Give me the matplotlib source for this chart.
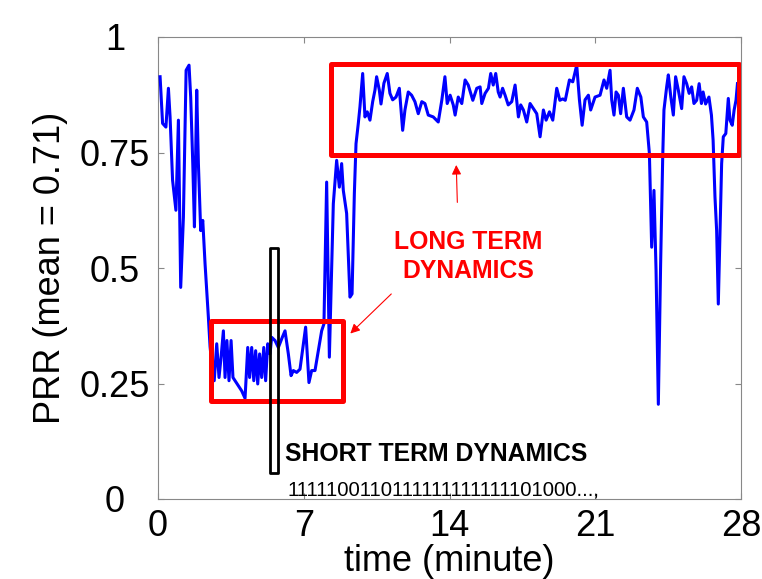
import numpy as np
import matplotlib
matplotlib.use("Agg")
import matplotlib.pyplot as plt
from matplotlib.patches import Rectangle

plt.rcParams['font.family'] = ['Liberation Sans', 'DejaVu Sans']

# PRR trace (time in minutes, PRR)
t = [0.10, 0.22, 0.38, 0.50, 0.58, 0.70, 0.86, 0.98, 1.09, 1.22, 1.35, 1.49, 1.57, 1.67,
     1.75, 1.86, 1.94, 2.05, 2.15, 2.26, 2.42,
     2.50, 2.58, 2.70, 2.82, 2.93, 3.03, 3.14, 3.22, 3.31, 3.41, 3.51, 3.60, 3.70, 3.86,
     4.02, 4.18, 4.31, 4.40, 4.50, 4.60, 4.69, 4.79, 4.88, 4.98, 5.08, 5.17, 5.27, 5.38,
     5.46, 5.62, 5.78, 5.97, 6.10, 6.26, 6.39, 6.50, 6.66, 6.82, 6.98, 7.09, 7.25, 7.38,
     7.54, 7.70, 7.86, 7.97, 8.10, 8.23, 8.42, 8.58, 8.71, 8.82, 8.90, 9.06, 9.22, 9.32,
     9.43, 9.51, 9.62, 9.70, 9.83, 9.94, 10.05, 10.18, 10.31, 10.42, 10.50, 10.63, 10.71,
     10.85, 11.01, 11.14, 11.27, 11.43, 11.59, 11.75, 11.86, 12.02, 12.18, 12.34, 12.50,
     12.67, 12.82, 12.98, 13.22, 13.46, 13.63, 13.78, 13.89, 14.03, 14.18, 14.27, 14.42,
     14.59, 14.75, 14.90, 15.12, 15.31, 15.47, 15.55, 15.71, 15.87, 15.98, 16.10, 16.22,
     16.34, 16.43, 16.55, 16.67, 16.82, 16.99, 17.15, 17.31, 17.42, 17.55, 17.71, 17.87,
     18.03, 18.19, 18.35, 18.51, 18.64, 18.80, 18.96, 19.15, 19.30, 19.44, 19.56, 19.76,
     19.92, 20.11, 20.24, 20.37, 20.51, 20.67, 20.78, 20.99, 21.23, 21.42, 21.55, 21.71,
     21.79, 21.90, 22.00, 22.11, 22.22, 22.35, 22.51, 22.67, 22.86, 23.02, 23.19, 23.31,
     23.47, 23.60, 23.71, 23.82, 23.92, 24.03, 24.14, 24.24, 24.30, 24.43, 24.51, 24.63,
     24.75, 24.86, 24.99, 25.15, 25.26, 25.39, 25.51, 25.63, 25.74, 25.87, 25.99, 26.10,
     26.18, 26.30, 26.46, 26.58, 26.66, 26.75, 26.83, 26.91, 26.99, 27.07, 27.15, 27.27,
     27.39, 27.47, 27.58, 27.67, 27.76, 27.83]
prr = [0.914, 0.813, 0.805, 0.889, 0.827, 0.690, 0.625, 0.820, 0.458, 0.610, 0.928, 0.939,
       0.870, 0.726, 0.589, 0.885, 0.726, 0.581, 0.603, 0.509, 0.393,
       0.330, 0.293, 0.256, 0.336, 0.263, 0.307, 0.364, 0.263, 0.343, 0.256, 0.343, 0.263,
       0.256, 0.245, 0.234, 0.218, 0.328, 0.263, 0.328, 0.256, 0.321, 0.249, 0.314, 0.263,
       0.328, 0.256, 0.336, 0.314, 0.350, 0.343, 0.328, 0.350, 0.364, 0.314, 0.267, 0.278,
       0.274, 0.281, 0.336, 0.372, 0.252, 0.278, 0.278, 0.321, 0.364, 0.379, 0.686, 0.307,
       0.639, 0.733, 0.675, 0.726, 0.668, 0.618, 0.437, 0.444, 0.661, 0.769, 0.813, 0.849,
       0.921, 0.827, 0.838, 0.820, 0.860, 0.885, 0.914, 0.885, 0.855, 0.900, 0.921, 0.878,
       0.864, 0.870, 0.889, 0.798, 0.842, 0.881, 0.874, 0.860, 0.834, 0.860, 0.856, 0.831,
       0.827, 0.816, 0.863, 0.914, 0.856, 0.874, 0.853, 0.831, 0.870, 0.856, 0.907, 0.896,
       0.863, 0.889, 0.892, 0.856, 0.878, 0.889, 0.921, 0.896, 0.921, 0.881, 0.870, 0.889,
       0.874, 0.853, 0.860, 0.896, 0.827, 0.853, 0.842, 0.816, 0.856, 0.845, 0.834, 0.784,
       0.842, 0.820, 0.838, 0.820, 0.889, 0.863, 0.866, 0.863, 0.907, 0.903, 0.939, 0.864,
       0.809, 0.864, 0.874, 0.842, 0.870, 0.874, 0.907, 0.889, 0.928, 0.864, 0.831, 0.881,
       0.874, 0.834, 0.889, 0.827, 0.820, 0.842, 0.889, 0.870, 0.827, 0.816, 0.748, 0.545,
       0.668, 0.495, 0.205, 0.509, 0.740, 0.842, 0.892, 0.918, 0.870, 0.831, 0.914, 0.885,
       0.845, 0.914, 0.899, 0.878, 0.892, 0.856, 0.863, 0.899, 0.856, 0.881, 0.855, 0.870,
       0.831, 0.777, 0.654, 0.581, 0.422, 0.574, 0.726, 0.784, 0.791, 0.867, 0.820, 0.809,
       0.842, 0.863, 0.899]

xticks = [0, 7, 14, 21, 28]
yticks = [0, 0.25, 0.5, 0.75, 1]
ytick_labels = ["0", "0.25", "0.5", "0.75", "1"]

# annotation boxes: (x0, y0, x1, y1) in data units
long_box = (8.30, 0.744, 27.91, 0.941)
short_box = (2.54, 0.213, 8.89, 0.386)
window_box = (5.39, 0.057, 5.78, 0.543)

fig = plt.figure(figsize=(7.62, 5.79), dpi=100)
ax = fig.add_axes([158/762, 1 - 499/579, 583/762, 462/579])

ax.plot(t, prr, color=(0, 0, 1), lw=2.2, zorder=3)

for (x0, y0, x1, y1), col, lw in [(long_box, 'red', 3.6), (short_box, 'red', 3.6),
                                  (window_box, 'black', 2.0)]:
  ax.add_patch(Rectangle((x0, y0), x1 - x0, y1 - y0, fill=False, edgecolor=col,
                         lw=lw, joinstyle='round', zorder=4))

ax.text(14.89, 0.525, "LONG TERM\nDYNAMICS", color='red', fontsize=17.8, fontweight='bold',
        ha='center', va='center', linespacing=1.3, zorder=5)
ax.annotate("", xy=(14.32, 0.729), xytext=(14.38, 0.636),
            arrowprops=dict(arrowstyle='-|>', color='red', lw=0.8, mutation_scale=14))
ax.annotate("", xy=(9.14, 0.354), xytext=(11.30, 0.448),
            arrowprops=dict(arrowstyle='-|>', color='red', lw=0.8, mutation_scale=14))

ax.text(6.10, 0.098, "SHORT TERM DYNAMICS", color='black', fontsize=17.8, fontweight='bold',
        ha='left', va='center', zorder=5)
ax.text(6.22, 0.019, "1111100110111111111111101000...,", color='black', fontsize=14.6,
        ha='left', va='center', zorder=5)

ax.set_xlim(0, 28)
ax.set_ylim(0, 1)
ax.set_xticks(xticks)
ax.set_yticks(yticks)
ax.set_yticklabels(ytick_labels)
for s in ax.spines.values():
  s.set_color('#888888')
  s.set_linewidth(0.8)
ax.tick_params(direction='in', length=4, width=0.8, color='#888888', labelsize=26,
               top=True, right=True)
ax.tick_params(axis='x', pad=7)
ax.tick_params(axis='y', pad=31)
plt.setp(ax.get_yticklabels(), ha='center')

ax.set_xlabel("time (minute)", fontsize=26)
ax.set_ylabel("PRR (mean = 0.71)", fontsize=26)
ax.xaxis.set_label_coords(0.5, -0.098)
ax.yaxis.set_label_coords(-0.155, 0.5)

fig.savefig("out.png", dpi=100)
